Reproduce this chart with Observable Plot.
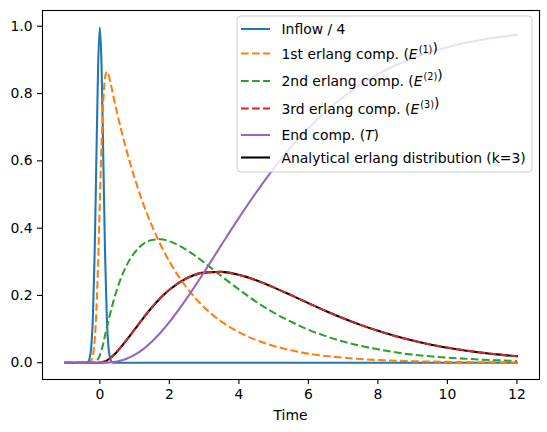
<!DOCTYPE html>
<html>
<head>
<meta charset="utf-8">
<script src="https://cdn.jsdelivr.net/npm/d3@7"></script>
<script src="https://cdn.jsdelivr.net/npm/@observablehq/plot@0.6"></script>
<style>
  html, body { margin: 0; padding: 0; background: #fff; }
  #chart { width: 547px; height: 432px; }
</style>
</head>
<body>
<div id="chart"></div>
<script>
// Sample times of the simulation output
const time = [-1, -0.5, -0.35, -0.3, -0.25, -0.2, -0.15, -0.1, -0.05,
  0, 0.05, 0.1, 0.15, 0.2, 0.25, 0.3, 0.35, 0.4, 0.5,
  0.75, 1, 1.25, 1.5, 1.75, 2,
  2.5, 3, 3.5, 4, 4.5, 5,
  5.5, 6, 6.5, 7, 7.5, 8,
  8.5, 9, 9.5, 10, 10.5, 11, 11.5, 12];

// Inflow pulse (scaled by 1/4)
const inflow = [0, 0, 0.002, 0.011, 0.044, 0.135, 0.324, 0.605, 0.880,
  0.997, 0.880, 0.605, 0.324, 0.135, 0.044, 0.011, 0.002, 0, 0,
  0, 0, 0, 0, 0, 0,
  0, 0, 0, 0, 0, 0,
  0, 0, 0, 0, 0, 0,
  0, 0, 0, 0, 0, 0, 0, 0];

// 1st erlang compartment
const comp1 = [0, 0, 0, 0.001, 0.006, 0.022, 0.065, 0.154, 0.297,
  0.477, 0.650, 0.779, 0.847, 0.865, 0.856, 0.835, 0.812, 0.787, 0.741,
  0.638, 0.549, 0.472, 0.407, 0.350, 0.301,
  0.223, 0.165, 0.122, 0.091, 0.067, 0.050,
  0.037, 0.027, 0.020, 0.015, 0.011, 0.008,
  0.006, 0.0045, 0.0033, 0.0025, 0.0018, 0.0014, 0.0010, 0.0007];

// 2nd erlang compartment
const comp2 = [0, 0, 0, 0, 0, 0.0005, 0.0015, 0.0047, 0.011,
  0.022, 0.038, 0.058, 0.081, 0.104, 0.126, 0.147, 0.167, 0.186, 0.220,
  0.285, 0.327, 0.353, 0.365, 0.367, 0.361,
  0.335, 0.298, 0.257, 0.218, 0.181, 0.149,
  0.122, 0.098, 0.079, 0.063, 0.050, 0.040,
  0.031, 0.024, 0.019, 0.015, 0.012, 0.009, 0.007, 0.005];

// 3rd erlang compartment
const comp3 = [0, 0, 0, 0, 0, 0, 0, 0.0001, 0.0004,
  0.0009, 0.0017, 0.0031, 0.0050, 0.0076, 0.0108, 0.0145, 0.0187, 0.0234, 0.0339,
  0.065, 0.099, 0.133, 0.165, 0.193, 0.217,
  0.251, 0.268, 0.270, 0.261, 0.245, 0.224,
  0.201, 0.177, 0.154, 0.132, 0.112, 0.095,
  0.079, 0.066, 0.054, 0.045, 0.037, 0.030, 0.024, 0.019];

// End compartment
const compEnd = [0, 0, 0, 0, 0, 0, 0, 0, 0,
  0, 0, 0, 0, 0.0003, 0.0005, 0.001, 0.0015, 0.0022, 0.0034,
  0.0109, 0.0231, 0.0405, 0.0629, 0.0897, 0.1205,
  0.1912, 0.2694, 0.3504, 0.4303, 0.5064, 0.5768,
  0.6406, 0.6973, 0.7469, 0.7898, 0.8264, 0.8575,
  0.8835, 0.9052, 0.9232, 0.9380, 0.9502, 0.9600, 0.9680, 0.9745];

// Analytical erlang distribution, k = 3
const erlangK3 = [0, 0, 0, 0, 0, 0, 0, 0, 0,
  0, 0.0004, 0.0017, 0.0037, 0.0064, 0.0097, 0.0135, 0.0179, 0.0227, 0.0333,
  0.0646, 0.0988, 0.1328, 0.1647, 0.1929, 0.2168,
  0.2510, 0.2678, 0.2700, 0.2613, 0.2450, 0.2240,
  0.2009, 0.1771, 0.1538, 0.1322, 0.1125, 0.0948,
  0.0793, 0.0659, 0.0544, 0.0446, 0.0365, 0.0296, 0.0240, 0.0194];

const xTicks = [0, 2, 4, 6, 8, 10, 12];
const yTicks = [0, 0.2, 0.4, 0.6, 0.8, 1.0];

// Drawing order (bottom to top) and styles
const series = [
  {values: erlangK3, color: "#000000", dashed: false},
  {values: inflow,   color: "#1f77b4", dashed: false},
  {values: comp1,    color: "#ff7f0e", dashed: true},
  {values: comp2,    color: "#2ca02c", dashed: true},
  {values: comp3,    color: "#d62728", dashed: true},
  {values: compEnd,  color: "#9467bd", dashed: false}
];

// Legend order and labels ($...$ marks math parts)
const legendItems = [
  {label: "Inflow / 4", color: "#1f77b4", dashed: false},
  {label: "1st erlang comp. ($E^{(1)}$)", color: "#ff7f0e", dashed: true},
  {label: "2nd erlang comp. ($E^{(2)}$)", color: "#2ca02c", dashed: true},
  {label: "3rd erlang comp. ($E^{(3)}$)", color: "#d62728", dashed: true},
  {label: "End comp. ($T$)", color: "#9467bd", dashed: false},
  {label: "Analytical erlang distribution (k=3)", color: "#000000", dashed: false}
];

const LW = 2.08;
const DASH = "7.7,3.33";
const FONT = "DejaVu Sans, sans-serif";
const FS = 13.9;

const lineMarks = series.map(s => Plot.line(
  time.map((t, i) => ({t, v: s.values[i]})),
  {
    x: "t", y: "v",
    stroke: s.color,
    strokeWidth: LW,
    strokeDasharray: s.dashed ? DASH : null,
    strokeLinecap: s.dashed ? "butt" : "square",
    strokeLinejoin: "round",
    curve: "monotone-x"
  }
));

const svg = Plot.plot({
  width: 547,
  height: 432,
  marginLeft: 42,
  marginRight: 8,
  marginTop: 10,
  marginBottom: 53,
  style: {fontFamily: FONT, fontSize: FS + "px", color: "#000", background: "#fff"},
  x: {domain: [-1.65, 12.65]},
  y: {domain: [-0.0499, 1.0469]},
  marks: [
    ...lineMarks,
    Plot.frame({stroke: "#000", strokeWidth: 1.1}),
    Plot.axisX({ticks: xTicks, tickSize: 5, tickPadding: 5, tickFormat: d3.format("d"), label: null, strokeWidth: 1.1}),
    Plot.axisY({ticks: yTicks, tickSize: 5, tickPadding: 5, tickFormat: d3.format(".1f"), label: null, strokeWidth: 1.1})
  ]
});

const root = d3.select(svg);

// x-axis label
root.append("text")
  .attr("x", (42 + 539) / 2)
  .attr("y", 420)
  .attr("text-anchor", "middle")
  .attr("font-family", FONT)
  .attr("font-size", FS)
  .attr("fill", "#000")
  .text("Time");

// Legend
const lg = root.append("g").attr("text-anchor", "start");
lg.append("rect")
  .attr("x", 237).attr("y", 16)
  .attr("width", 295).attr("height", 156)
  .attr("rx", 3.5)
  .attr("fill", "#fff").attr("fill-opacity", 0.8)
  .attr("stroke", "#cccccc").attr("stroke-width", 1);

const rowY = [29, 53.5, 81, 108.5, 135, 157.5];

legendItems.forEach((item, i) => {
  const y = rowY[i];
  lg.append("line")
    .attr("x1", 241).attr("x2", 270)
    .attr("y1", y).attr("y2", y)
    .attr("stroke", item.color)
    .attr("stroke-width", LW)
    .attr("stroke-dasharray", item.dashed ? DASH : null);
  const txt = lg.append("text")
    .attr("x", 281.5).attr("y", y + 5.2)
    .attr("text-anchor", "start")
    .attr("font-family", FONT)
    .attr("font-size", FS)
    .attr("fill", "#000");
  // split plain text and math parts
  const parts = item.label.split(/(\$[^$]*\$)/);
  parts.forEach(p => {
    if (!p) return;
    if (p.startsWith("$")) {
      const m = p.slice(1, -1).match(/^(\w)(?:\^\{(.*)\})?$/);
      txt.append("tspan").attr("font-style", "italic").text(m[1]);
      if (m[2]) {
        txt.append("tspan")
          .attr("font-size", FS * 0.7)
          .attr("dy", -6)
          .attr("dx", 1)
          .text(m[2]);
        txt.append("tspan").attr("dy", 6).text("");
      }
    } else {
      txt.append("tspan").text(p);
    }
  });
});

document.getElementById("chart").appendChild(svg);
</script>
</body>
</html>
